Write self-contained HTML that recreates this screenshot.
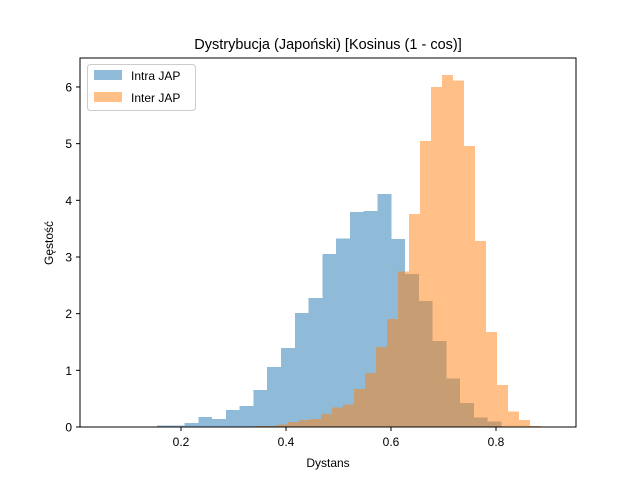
<!DOCTYPE html>
<html><head><meta charset="utf-8"><style>
body{margin:0;background:#fff}
svg{display:block;font-family:"Liberation Sans","DejaVu Sans",sans-serif}
</style></head><body>
<svg id="chart" width="640" height="480">
<text x="328" y="49" text-anchor="middle" font-size="14.5">Dystrybucja (Japoński) [Kosinus (1 - cos)]</text>
<g id="bars" shape-rendering="crispEdges"></g>
<rect x="80" y="58" width="496" height="369" fill="none" stroke="#000" stroke-width="1"/>
<g id="axes" font-size="12"></g>
<text x="328" y="467" text-anchor="middle" font-size="12">Dystans</text>
<text transform="translate(53,243) rotate(-90)" text-anchor="middle" font-size="12">Gęstość</text>
<g>
<rect x="87.5" y="64.5" width="108" height="46" rx="3" fill="#fff" fill-opacity="0.8" stroke="#ccc"/>
<rect x="94" y="70" width="28" height="10" fill="#1f77b4" fill-opacity="0.5"/>
<text x="131" y="80" font-size="12">Intra JAP</text>
<rect x="94" y="92" width="28" height="10" fill="#ff7f0e" fill-opacity="0.5"/>
<text x="131" y="102" font-size="12">Inter JAP</text>
</g>
</svg>
<script>
const intraStart = 0.128, intraWidth = 0.02625;
const intraValues = [0.01,0.03,0.03,0.07,0.18,0.14,0.30,0.37,0.65,1.06,1.39,2.01,2.28,3.05,3.33,3.79,3.81,4.11,3.32,2.70,2.22,1.52,0.86,0.42,0.17,0.10];
const interStart = 0.299, interWidth = 0.02095;
const interValues = [0.01,0,0.02,0.02,0.04,0.09,0.12,0.14,0.23,0.34,0.40,0.67,0.95,1.41,1.91,2.74,3.76,5.05,6.0,6.21,6.11,4.96,3.28,1.68,0.74,0.27,0.12,0.02];
const xTicks = [0.2,0.4,0.6,0.8];
const yTicks = [0,1,2,3,4,5,6];
const ns = "http://www.w3.org/2000/svg";
const X = v => 76 + v * 525;
const Y = v => 427 - v * 56.67;
const bars = document.getElementById('bars');
function series(start, w, vals, color, name){
  vals.forEach((v,i)=>{
    const r = document.createElementNS(ns,'rect');
    const x0 = X(start + i*w), x1 = X(start + (i+1)*w);
    r.setAttribute('x', x0); r.setAttribute('width', x1 - x0);
    r.setAttribute('y', Y(v)); r.setAttribute('height', Y(0) - Y(v));
    r.setAttribute('fill', color); r.setAttribute('fill-opacity', 0.5);
    
    
    bars.appendChild(r);
  });
}
series(intraStart, intraWidth, intraValues, '#1f77b4', 'intra');
series(interStart, interWidth, interValues, '#ff7f0e', 'inter');
const axes = document.getElementById('axes');
xTicks.forEach(t=>{
  const l = document.createElementNS(ns,'line');
  l.setAttribute('x1',X(t)); l.setAttribute('x2',X(t)); l.setAttribute('y1',427); l.setAttribute('y2',431); l.setAttribute('stroke','#000');
  
  
  axes.appendChild(l);
  const s = document.createElementNS(ns,'text');
  s.setAttribute('x',X(t)); s.setAttribute('y',446); s.setAttribute('text-anchor','middle'); s.textContent = t.toFixed(1);
  
  
  axes.appendChild(s);
});
yTicks.forEach(t=>{
  const l = document.createElementNS(ns,'line');
  l.setAttribute('x1',76); l.setAttribute('x2',80); l.setAttribute('y1',Y(t)); l.setAttribute('y2',Y(t)); l.setAttribute('stroke','#000');
  
  
  axes.appendChild(l);
  const s = document.createElementNS(ns,'text');
  s.setAttribute('x',72); s.setAttribute('y',Y(t)+4.5); s.setAttribute('text-anchor','end'); s.textContent = t;
  
  
  axes.appendChild(s);
});
</script>
</body></html>
